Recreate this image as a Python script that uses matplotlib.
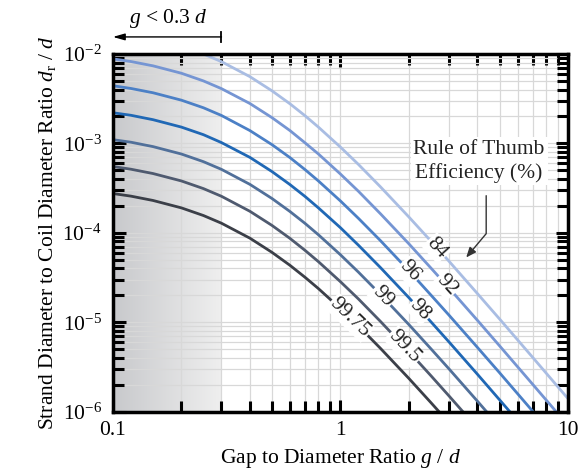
import numpy as np
import matplotlib
matplotlib.use("Agg")
import matplotlib.pyplot as plt
from matplotlib.colors import LinearSegmentedColormap
from matplotlib import transforms

plt.rcParams['font.family'] = ['Liberation Serif', 'DejaVu Serif']
plt.rcParams['mathtext.fontset'] = 'custom'
plt.rcParams['mathtext.rm'] = 'Liberation Serif'
plt.rcParams['mathtext.it'] = 'Liberation Serif:italic'
FIG_SIZE = (5.79, 4.73)
FS = 15.5

# gap to diameter ratio g/d (sample points)
gap = [0.1, 0.12, 0.15, 0.2, 0.25, 0.3, 0.4, 0.5, 0.6, 0.7, 0.8, 1.0, 1.2, 1.5, 2.0, 2.5, 3.0, 4.0, 5.0, 7.0, 10.0]

# strand to coil diameter ratio for each rule-of-thumb efficiency (%)
eff_labels = ["84", "92", "96", "98", "99", "99.5", "99.75"]
r_84 = [1.76e-2, 1.64e-2, 1.47e-2, 1.22e-2, 9.98e-3, 8.19e-3, 5.57e-3, 3.87e-3, 2.77e-3, 2.03e-3, 1.52e-3,
        9.08e-4, 5.81e-4, 3.26e-4, 1.50e-4, 8.06e-5, 4.81e-5, 2.09e-5, 1.09e-5, 4.04e-6, 1.40e-6]
r_92 = [8.81e-3, 8.22e-3, 7.36e-3, 6.08e-3, 4.99e-3, 4.09e-3, 2.79e-3, 1.94e-3, 1.39e-3, 1.01e-3, 7.61e-4,
        4.54e-4, 2.91e-4, 1.63e-4, 7.52e-5, 4.03e-5, 2.41e-5, 1.05e-5, 5.46e-6, 2.02e-6, 7.02e-7]
r_96 = [4.41e-3, 4.11e-3, 3.68e-3, 3.04e-3, 2.50e-3, 2.05e-3, 1.39e-3, 9.68e-4, 6.93e-4, 5.07e-4, 3.80e-4,
        2.27e-4, 1.45e-4, 8.16e-5, 3.76e-5, 2.01e-5, 1.20e-5, 5.23e-6, 2.73e-6, 1.01e-6, 3.51e-7]
r_98 = [2.20e-3, 2.06e-3, 1.84e-3, 1.52e-3, 1.25e-3, 1.02e-3, 6.97e-4, 4.84e-4, 3.46e-4, 2.54e-4, 1.90e-4,
        1.14e-4, 7.26e-5, 4.08e-5, 1.88e-5, 1.01e-5, 6.02e-6, 2.62e-6, 1.36e-6, 5.06e-7, 1.75e-7]
r_99 = [1.10e-3, 1.03e-3, 9.20e-4, 7.60e-4, 6.24e-4, 5.12e-4, 3.48e-4, 2.42e-4, 1.73e-4, 1.27e-4, 9.51e-5,
        5.68e-5, 3.63e-5, 2.04e-5, 9.40e-6, 5.04e-6, 3.01e-6, 1.31e-6, 6.82e-7, 2.53e-7, 8.77e-8]
r_995 = [5.51e-4, 5.14e-4, 4.60e-4, 3.80e-4, 3.12e-4, 2.56e-4, 1.74e-4, 1.21e-4, 8.66e-5, 6.34e-5, 4.76e-5,
         2.84e-5, 1.82e-5, 1.02e-5, 4.70e-6, 2.52e-6, 1.50e-6, 6.54e-7, 3.41e-7, 1.26e-7, 4.38e-8]
r_9975 = [2.75e-4, 2.57e-4, 2.30e-4, 1.90e-4, 1.56e-4, 1.28e-4, 8.71e-5, 6.05e-5, 4.33e-5, 3.17e-5, 2.38e-5,
          1.42e-5, 9.08e-6, 5.10e-6, 2.35e-6, 1.26e-6, 7.52e-7, 3.27e-7, 1.71e-7, 6.32e-8, 2.19e-8]

# where the inline labels sit along g/d
label_gap = [2.66, 2.92, 2.01, 2.24, 1.53, 1.91, 1.1]

colors = ["#a9bde3", "#7595d3", "#4c80c6", "#2068b5", "#51709a", "#4f5a6f", "#3b3f48"]
curves = [r_84, r_92, r_96, r_98, r_99, r_995, r_9975]

fig = plt.figure(figsize=FIG_SIZE, dpi=100)
ax = fig.add_axes([0.195, 0.1296, 0.786, 0.7564])
ax.set_xscale("log")
ax.set_yscale("log")
ax.set_xlim(0.1, 10)
ax.set_ylim(1e-6, 1e-2)

# shaded region g < 0.3 d
x_frac = (np.log10(0.3) - np.log10(0.1)) / (np.log10(10) - np.log10(0.1))
shade = LinearSegmentedColormap.from_list("shade", ["#c8c9cc", "#efefef"])
ax.imshow(np.linspace(0, 1, 256).reshape(1, -1), cmap=shade, aspect="auto",
          extent=[0, x_frac, 0, 1], transform=ax.transAxes, zorder=0,
          interpolation="bilinear")
ax.set_xlim(0.1, 10)
ax.set_ylim(1e-6, 1e-2)

ax.grid(True, which="both", color="#d8d8d8", linewidth=0.9, zorder=1)
ax.set_axisbelow(True)

for r, c in zip(curves, colors):
    ax.plot(gap, r, color=c, linewidth=2.0, zorder=3, solid_capstyle="butt")

# inline labels rotated along each curve
lg = np.log10(gap)
for r, lab, gx in zip(curves, eff_labels, label_gap):
    lr = np.log10(r)
    yv = 10 ** np.interp(np.log10(gx), lg, lr)
    y2 = 10 ** np.interp(np.log10(gx * 1.05), lg, lr)
    p1 = ax.transData.transform((gx, yv))
    p2 = ax.transData.transform((gx * 1.05, y2))
    ang = np.degrees(np.arctan2(p2[1] - p1[1], p2[0] - p1[0]))
    ax.text(gx, yv, lab, rotation=ang, rotation_mode="anchor", ha="center", va="center",
            fontsize=FS, color="#222222", zorder=5,
            bbox=dict(facecolor="white", edgecolor="none", pad=0.8))

ax.text(4.07, 6.3e-4, "Rule of Thumb\nEfficiency (%)", ha="center", va="center",
        fontsize=FS, color="#222222", linespacing=1.25, zorder=5,
        bbox=dict(facecolor="white", edgecolor="none", pad=2.0))
ax.annotate("", xy=(3.57, 5.3e-5), xytext=(4.37, 2.6e-4), zorder=6,
            arrowprops=dict(arrowstyle="-|>,head_length=0.6,head_width=0.25", color="#333333",
                            lw=1.0, shrinkA=0, shrinkB=0,
                            connectionstyle="angle,angleA=90,angleB=50,rad=0"))

# g < 0.3 d arrow above the axes
trans = transforms.blended_transform_factory(ax.transData, ax.transAxes)
ax.annotate("", xy=(0.1, 1.0475), xytext=(0.3, 1.0475), xycoords=trans, textcoords=trans,
            arrowprops=dict(arrowstyle="-|>,head_length=0.7,head_width=0.2", color="black",
                            lw=1.0, shrinkA=0, shrinkB=0), annotation_clip=False)
ax.plot([0.3, 0.3], [1.034, 1.061], transform=trans, color="black", lw=1.3, clip_on=False)
ax.text(0.175, 1.10, r"$g$ < 0.3 $d$", transform=trans, ha="center", va="center", fontsize=FS)

ax.set_xticks([0.1, 1, 10], ["0.1", "1", "10"])
ax.tick_params(which="both", direction="in", top=True, right=True, width=2.2, labelsize=FS)
ax.tick_params(which="major", length=9, pad=7)
ax.tick_params(which="minor", length=8)
ax.tick_params(axis="y", which="major", pad=8)
for s in ax.spines.values():
    s.set_linewidth(2.5)
    s.set_zorder(6)

ax.set_xlabel(r"Gap to Diameter Ratio $g$ / $d$", fontsize=FS, labelpad=5)
ax.set_ylabel(r"Strand Diameter to Coil Diameter Ratio $d_\mathrm{r}$ / $d$", fontsize=FS, labelpad=3)

fig.savefig("out.png", dpi=100)
